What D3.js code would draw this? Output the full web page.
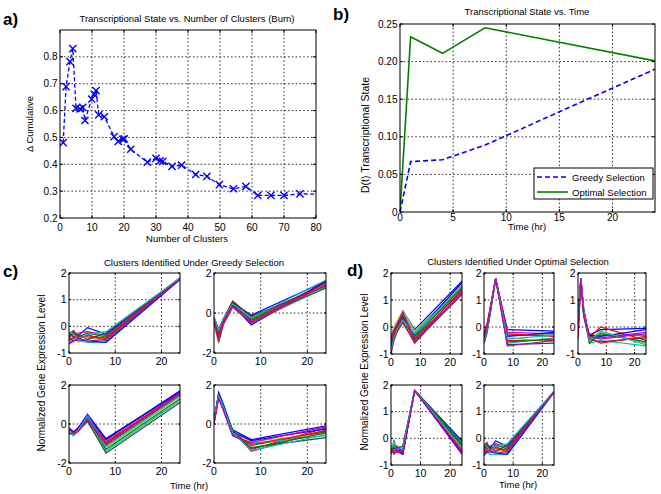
<!DOCTYPE html>
<html><head><meta charset="utf-8">
<script src="https://cdn.jsdelivr.net/npm/d3@7"></script>
<style>
body{margin:0;background:#fff}
svg{display:block}
text{font-family:"Liberation Sans",Arial,Helvetica,sans-serif;fill:#000}
.lbl{font-weight:bold}
</style>
</head><body>
<svg id="chart" width="661" height="494"></svg>
<script>
// ---------- DATA ----------
// Panel a: Transcriptional State vs. Number of Clusters (Burn)
const clusterCounts = [1,1.9,3.1,4,5,6.25,7.1,7.8,9.9,10.7,11.25,12.1,13.85,16.9,18.2,19.6,20.1,22.1,27.3,30,31.25,32.1,35,38,42.4,45.9,49.8,54.2,58.1,61.8,65.9,70,75,85];
const deltaCumulative = [0.481,0.689,0.782,0.831,0.608,0.606,0.612,0.563,0.643,0.66,0.674,0.584,0.577,0.503,0.485,0.493,0.495,0.456,0.408,0.422,0.413,0.411,0.392,0.397,0.362,0.355,0.324,0.309,0.318,0.284,0.284,0.284,0.29,0.287];

// Panel b: Transcriptional State vs. Time
const timeB = [0,1,4,8,24];
const greedyD = [0,0.067,0.0695,0.089,0.19];
const optimalD = [0,0.233,0.211,0.245,0.201];
const legendLabels = ["Greedy Selection","Optimal Selection"];

// Panels c/d: cluster profiles (time points in hr)
const timePts = [0,1,2,4,8,24];
const greedyC1 = [
 [-0.45,-0.2,-0.35,-0.05,-0.3,1.8],[-0.55,-0.4,-0.5,-0.3,-0.55,1.78],[-0.3,-0.15,-0.45,-0.35,-0.45,1.8],
 [-0.6,-0.5,-0.55,-0.6,-0.6,1.75],[-0.4,-0.3,-0.25,-0.2,-0.35,1.82],[-0.5,-0.35,-0.6,-0.45,-0.5,1.77],
 [-0.25,-0.4,-0.3,-0.5,-0.25,1.8],[-0.65,-0.55,-0.5,-0.55,-0.6,1.76],[-0.35,-0.25,-0.4,-0.25,-0.4,1.79],
 [-0.5,-0.45,-0.35,-0.4,-0.45,1.8],[-0.2,-0.3,-0.5,-0.3,-0.2,1.81],[-0.45,-0.55,-0.45,-0.55,-0.5,1.78]];
const greedyC2 = [
 [-0.3,-0.9,-0.3,0.5,-0.1,1.6],[-0.4,-1.1,-0.5,0.4,-0.3,1.5],[-0.2,-0.8,-0.3,0.6,-0.2,1.4],
 [-0.5,-1.5,-0.6,0.3,-0.5,1.3],[-0.35,-1.0,-0.4,0.45,-0.4,1.55],[-0.45,-1.3,-0.5,0.35,-0.55,1.45],
 [-0.25,-0.95,-0.35,0.55,-0.15,1.35],[-0.4,-1.2,-0.45,0.4,-0.6,1.6],[-0.3,-1.05,-0.4,0.5,-0.35,1.25],
 [-0.5,-1.4,-0.55,0.3,-0.45,1.5],[-0.2,-0.85,-0.3,0.45,-0.25,1.65],[-0.35,-1.15,-0.4,0.35,-0.5,1.4]];
const greedyC3 = [
 [-0.2,-0.4,-0.2,0.4,-0.8,1.7],[-0.4,-0.6,-0.3,0.2,-1.1,1.5],[-0.3,-0.5,-0.25,0.3,-0.9,1.6],
 [-0.5,-0.55,-0.35,0.1,-1.4,1.2],[-0.35,-0.45,-0.2,0.35,-1.0,1.55],[-0.25,-0.6,-0.3,0.25,-1.2,1.4],
 [-0.45,-0.5,-0.3,0.15,-1.5,1.1],[-0.3,-0.4,-0.2,0.5,-0.75,1.65],[-0.4,-0.55,-0.35,0.3,-1.3,1.3],
 [-0.2,-0.45,-0.25,0.2,-0.95,1.5],[-0.35,-0.6,-0.3,0.4,-1.15,1.45],[-0.5,-0.5,-0.4,0.25,-1.05,1.6]];
const greedyC4 = [
 [0.1,1.6,1.0,-0.3,-0.8,-0.1],[0.3,1.4,0.8,-0.5,-1.1,-0.4],[0.0,1.5,0.9,-0.4,-1.3,-0.2],
 [0.2,1.3,0.7,-0.6,-1.0,-0.6],[0.1,1.55,0.85,-0.35,-1.4,-0.3],[0.25,1.45,0.9,-0.45,-0.9,-0.5],
 [0.05,1.35,0.75,-0.55,-1.2,-0.7],[0.15,1.6,1.0,-0.4,-0.85,-0.25],[0.3,1.5,0.8,-0.3,-1.25,-0.45],
 [0.0,1.4,0.85,-0.5,-1.05,-0.35],[0.2,1.45,0.9,-0.45,-1.35,-0.55],[0.1,1.3,0.7,-0.6,-0.95,-0.15]];
const optimalD1 = [
 [-0.4,-0.1,0.1,0.6,-0.1,1.7],[-0.8,-0.4,-0.1,0.3,-0.4,1.5],[-1.0,-0.5,-0.2,0.2,-0.6,1.3],
 [-0.5,-0.2,0.0,0.5,-0.2,1.6],[-0.6,-0.3,0.0,0.4,-0.5,1.4],[-0.3,0.0,0.2,0.6,-0.15,1.55],
 [-0.9,-0.45,-0.15,0.15,-0.55,1.2],[-0.7,-0.35,-0.05,0.35,-0.3,1.65],[-0.45,-0.15,0.05,0.45,-0.35,1.45],
 [-0.55,-0.25,0.0,0.3,-0.45,1.35],[-0.85,-0.4,-0.1,0.25,-0.25,1.5],[-0.35,-0.1,0.1,0.55,-0.5,1.25]];
const optimalD2 = [
 [-0.3,0.0,0.6,1.8,-0.1,-0.15],[-0.5,-0.1,0.5,1.78,-0.3,-0.3],[-0.6,-0.2,0.4,1.8,-0.5,-0.5],
 [-0.4,-0.05,0.55,1.79,-0.6,-0.4],[-0.2,0.1,0.65,1.8,-0.2,-0.25],[-0.55,-0.15,0.45,1.77,-0.4,-0.55],
 [-0.35,0.0,0.6,1.8,-0.65,-0.6],[-0.45,-0.1,0.5,1.78,-0.35,-0.2],[-0.6,-0.25,0.4,1.79,-0.55,-0.45],
 [-0.25,0.05,0.6,1.8,-0.25,-0.35],[-0.5,-0.15,0.45,1.8,-0.45,-0.3],[-0.4,-0.05,0.5,1.78,-0.7,-0.5]];
const optimalD3 = [
 [0.0,1.8,0.6,-0.3,-0.1,-0.05],[-0.3,1.78,0.5,-0.5,-0.3,-0.3],[0.2,1.8,0.7,-0.4,0.0,-0.5],
 [-0.5,1.75,0.4,-0.6,-0.5,-0.7],[0.1,1.8,0.55,-0.35,-0.4,-0.2],[-0.2,1.77,0.5,-0.55,-0.2,-0.6],
 [0.3,1.8,0.65,-0.45,-0.55,-0.4],[-0.1,1.79,0.45,-0.3,-0.35,-0.1],[0.0,1.78,0.6,-0.6,-0.25,-0.55],
 [-0.4,1.76,0.4,-0.4,-0.6,-0.35],[0.2,1.8,0.7,-0.5,-0.15,-0.65],[-0.25,1.77,0.5,-0.35,-0.45,-0.25]];
const optimalD4 = [
 [-0.5,-0.1,-0.4,-0.3,1.8,-0.1],[-0.4,-0.4,-0.3,-0.5,1.78,-0.3],[-0.6,-0.3,-0.5,-0.6,1.8,-0.5],
 [-0.3,-0.2,-0.35,-0.4,1.79,-0.2],[-0.55,-0.5,-0.45,-0.55,1.8,-0.6],[-0.45,-0.15,-0.3,-0.35,1.78,-0.4],
 [-0.35,-0.6,-0.5,-0.45,1.8,-0.25],[-0.5,-0.35,-0.4,-0.6,1.79,-0.55],[-0.6,-0.25,-0.35,-0.3,1.8,-0.15],
 [-0.4,-0.45,-0.5,-0.5,1.78,-0.45],[-0.3,-0.3,-0.4,-0.4,1.8,-0.35],[-0.5,-0.55,-0.3,-0.55,1.79,-0.5]];
const optimalD5 = [
 [-0.45,-0.2,-0.4,-0.1,-0.3,1.75],[-0.55,-0.35,-0.5,-0.3,-0.55,1.73],[-0.3,-0.15,-0.4,-0.35,-0.45,1.76],
 [-0.6,-0.5,-0.6,-0.6,-0.6,1.72],[-0.4,-0.3,-0.3,-0.2,-0.35,1.75],[-0.5,-0.4,-0.55,-0.45,-0.5,1.74],
 [-0.25,-0.4,-0.3,-0.5,-0.25,1.76],[-0.65,-0.5,-0.5,-0.55,-0.6,1.73],[-0.35,-0.25,-0.45,-0.25,-0.4,1.75],
 [-0.5,-0.45,-0.35,-0.4,-0.45,1.74],[-0.2,-0.3,-0.5,-0.3,-0.2,1.76],[-0.45,-0.55,-0.45,-0.55,-0.5,1.73]];

const ticksA_x = [0,10,20,30,40,50,60,70,80];
const ticksA_y = [0.2,0.3,0.4,0.5,0.6,0.7,0.8];
const ticksB_x = [0,5,10,15,20];
const ticksB_y = [0,0.05,0.10,0.15,0.20,0.25];
const ticksT = [0,10,20];

// ---------- STYLE / LAYOUT ----------
const matlabColors = ["#0000ff","#008000","#ff0000","#00bfbf","#bf00bf","#bfbf00","#404040"];
const svg = d3.select("#chart");
let clipId = 0;

function makeAxes(o){
  const [x0,x1,y0,y1] = o.box;
  const x = d3.scaleLinear().domain(o.xd).range([x0,x1]);
  const y = d3.scaleLinear().domain(o.yd).range([y1,y0]);
  const g = svg.append("g");
  g.append("rect").attr("x",x0).attr("y",y0).attr("width",x1-x0).attr("height",y1-y0).attr("fill","#fff");
  const grid = g.append("g").attr("stroke","#000").attr("stroke-width",0.8).attr("stroke-dasharray","1.6,2.2");
  (o.gx||[]).forEach(v=>grid.append("line").attr("x1",x(v)).attr("x2",x(v)).attr("y1",y0).attr("y2",y1));
  (o.gy||[]).forEach(v=>grid.append("line").attr("y1",y(v)).attr("y2",y(v)).attr("x1",x0).attr("x2",x1));
  const id = "clip"+(clipId++);
  svg.append("clipPath").attr("id",id).append("rect").attr("x",x0).attr("y",y0).attr("width",x1-x0).attr("height",y1-y0);
  const plot = g.append("g").attr("clip-path",`url(#${id})`);
  const front = g.append("g");
  function finish(){
    front.append("rect").attr("x",x0).attr("y",y0).attr("width",x1-x0).attr("height",y1-y0)
      .attr("fill","none").attr("stroke","#000").attr("stroke-width",1);
    const tl = o.tl||3;
    const tk = front.append("g").attr("stroke","#000").attr("stroke-width",1);
    o.xt.forEach(v=>{ tk.append("line").attr("x1",x(v)).attr("x2",x(v)).attr("y1",y1).attr("y2",y1-tl);
                      tk.append("line").attr("x1",x(v)).attr("x2",x(v)).attr("y1",y0).attr("y2",y0+tl); });
    o.yt.forEach(v=>{ tk.append("line").attr("y1",y(v)).attr("y2",y(v)).attr("x1",x0).attr("x2",x0+tl);
                      tk.append("line").attr("y1",y(v)).attr("y2",y(v)).attr("x1",x1).attr("x2",x1-tl); });
    const fs = o.fs||10;
    const xoff = o.xoff||12;
    const xf = o.xf||(d=>d), yf = o.yf||(d=>d);
    o.xt.forEach(v=>front.append("text").attr("x",x(v)).attr("y",y1+xoff).attr("text-anchor","middle")
      .attr("font-size",fs).text(xf(v)));
    o.yt.forEach(v=>front.append("text").attr("x",x0-2.5).attr("y",y(v)+fs*0.36).attr("text-anchor","end")
      .attr("font-size",fs).text(yf(v)));
  }
  return {x,y,plot,finish};
}
function addText(x,y,str,fs,opts={}){
  const t = svg.append("text").attr("x",x).attr("y",y).attr("font-size",fs)
    .attr("text-anchor",opts.anchor||"middle").text(str);
  if(opts.rotate) t.attr("transform",`rotate(-90,${x},${y})`);
  if(opts.cls) t.attr("class",opts.cls);
  return t;
}

// ---------- PANEL A ----------
{
  const ax = makeAxes({box:[60,316,30,218], xd:[0,80], yd:[0.2,0.9], xt:ticksA_x, yt:ticksA_y,
    gx:ticksA_x.slice(1,-1), gy:ticksA_y.slice(1), yf:d=>d.toFixed(1), fs:10, xoff:12.5});
  const pts = clusterCounts.map((c,i)=>[c,deltaCumulative[i]]);
  ax.plot.append("path").datum(pts).attr("fill","none").attr("stroke","#0000ff").attr("stroke-width",1.3)
    .attr("stroke-dasharray","4,2.5").attr("d",d3.line().x(d=>ax.x(d[0])).y(d=>ax.y(d[1])));
  const s = 3.6;
  ax.plot.selectAll("path.mk").data(pts).join("path").attr("class","mk")
    .attr("d",d=>{const px=ax.x(d[0]),py=ax.y(d[1]);
      return `M${px-s},${py-s}L${px+s},${py+s}M${px-s},${py+s}L${px+s},${py-s}`;})
    .attr("stroke","#0000ff").attr("stroke-width",1.4).attr("fill","none");
  ax.finish();
  addText(187,22,"Transcriptional State vs. Number of Clusters (Burn)",9.5);
  addText(187,242,"Number of Clusters",9.5);
  addText(33,124,"\u0394 Cumulative",9.5,{rotate:true});
  addText(3,25,"a)",17,{anchor:"start",cls:"lbl"});
}

// ---------- PANEL B ----------
{
  const ax = makeAxes({box:[400,655,24,212], xd:[0,24], yd:[0,0.25], xt:ticksB_x, yt:ticksB_y,
    gx:ticksB_x.slice(1), gy:ticksB_y.slice(1,-1), yf:d=>d===0?"0":d.toFixed(2), fs:10, xoff:9});
  const line = d3.line().x(d=>ax.x(d[0])).y(d=>ax.y(d[1]));
  ax.plot.append("path").datum(timeB.map((t,i)=>[t,optimalD[i]])).attr("fill","none")
    .attr("stroke","#008000").attr("stroke-width",1.6).attr("d",line);
  ax.plot.append("path").datum(timeB.map((t,i)=>[t,greedyD[i]])).attr("fill","none")
    .attr("stroke","#0000ff").attr("stroke-width",1.6).attr("stroke-dasharray","5,3").attr("d",line);
  ax.finish();
  const lg = svg.append("g");
  lg.append("rect").attr("x",534).attr("y",168).attr("width",119).attr("height",31)
    .attr("fill","#fff").attr("stroke","#000").attr("stroke-width",1);
  const styles = [{c:"#0000ff",d:"5,3"},{c:"#008000",d:null}];
  legendLabels.forEach((l,i)=>{
    const yy = 177 + i*15;
    const ln = lg.append("line").attr("x1",537).attr("x2",568).attr("y1",yy).attr("y2",yy)
      .attr("stroke",styles[i].c).attr("stroke-width",1.6);
    if(styles[i].d) ln.attr("stroke-dasharray",styles[i].d);
    lg.append("text").attr("x",572).attr("y",yy+3.5).attr("font-size",9.5).text(l);
  });
  addText(527,15,"Transcriptional State vs. Time",9.5);
  addText(527,230,"Time (hr)",9.5);
  addText(369,135,"D(t) Transcriptional State",10.5,{rotate:true});
  addText(333,20,"b)",17,{anchor:"start",cls:"lbl"});
}

// ---------- PANELS C & D ----------
function clusterPlot(box, yd, yt, gy, profiles){
  const ax = makeAxes({box, xd:[0,24], yd, xt:ticksT, yt, gx:[10,20], gy, fs:10.5, tl:2, xoff:12});
  const line = d3.line().x((d,i)=>ax.x(timePts[i])).y(d=>ax.y(d));
  ax.plot.selectAll("path.p").data(profiles).join("path").attr("class","p")
    .attr("fill","none").attr("stroke",(d,i)=>matlabColors[i%7]).attr("stroke-width",1.2)
    .attr("d",line);
  ax.finish();
}
const ytA = [-1,0,1,2], ytB = [-2,0,2];
clusterPlot([69,180,273,353],[-1,2],ytA,[0,1],greedyC1);
clusterPlot([214,326,273,353],[-2,2],ytB,[0],greedyC2);
clusterPlot([69,180,385,463],[-2,2],ytB,[0],greedyC3);
clusterPlot([214,326,385,463],[-2,2],ytB,[0],greedyC4);
addText(194,265.5,"Clusters Identified Under Greedy Selection",9.5);
addText(189,489,"Time (hr)",9.5);
addText(45,373,"Normalized Gene Expression Level",10,{rotate:true});
addText(3,277,"c)",17,{anchor:"start",cls:"lbl"});

clusterPlot([391,462,273,354],[-1,2],ytA,[0,1],optimalD1);
clusterPlot([484,554,273,354],[-1,2],ytA,[0,1],optimalD2);
clusterPlot([578,646,273,354],[-1,2],ytA,[0,1],optimalD3);
clusterPlot([391,462,385,465],[-1,2],ytA,[0,1],optimalD4);
clusterPlot([484,554,385,465],[-1,2],ytA,[0,1],optimalD5);
addText(518,265,"Clusters Identified Under Optimal Selection",9.5);
addText(518,488,"Time (hr)",9.5);
addText(368,372,"Normalized Gene Expression Level",10,{rotate:true});
addText(347,276,"d)",17,{anchor:"start",cls:"lbl"});
</script>
</body></html>
